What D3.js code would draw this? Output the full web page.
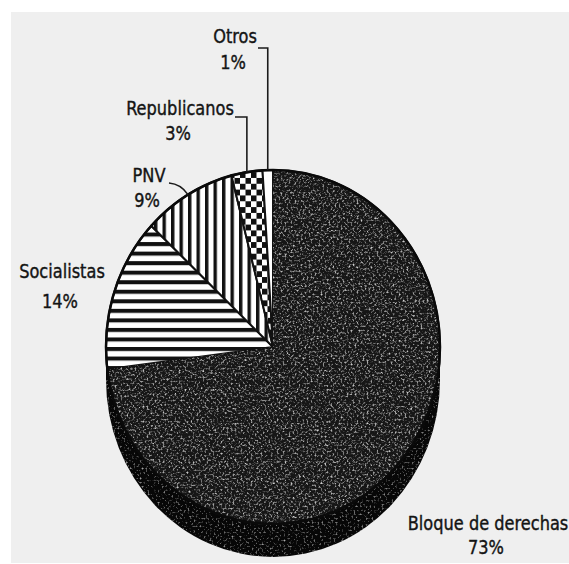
<!DOCTYPE html>
<html>
<head>
<meta charset="utf-8">
<script src="https://cdn.jsdelivr.net/npm/d3@7"></script>
<style>
  html, body { margin: 0; padding: 0; background: #fff; }
  svg { display: block; }
  text { font-family: "DejaVu Sans Condensed", "DejaVu Sans", sans-serif; font-stretch: condensed; fill: #141414; stroke: #141414; stroke-width: 0.35; }
</style>
</head>
<body>
<script>
// values (percent of seats)
var categories = ["Bloque de derechas", "Socialistas", "PNV", "Republicanos", "Otros"];
var values = [73, 14, 9, 3, 1];
var pctLabels = ["73%", "14%", "9%", "3%", "1%"];
var fills = ["dark", "hstripes", "vstripes", "checker", "white"];

var width = 569, height = 564,
    cx = 273, cy = 347,
    rx = 167, ry = 177,
    depth = 33,
    k = ry / rx;

var svg = d3.select("body").append("svg")
    .attr("width", width)
    .attr("height", height);

var defs = svg.append("defs");

// horizontal stripes
var hp = defs.append("pattern").attr("id", "hstripes")
    .attr("patternUnits", "userSpaceOnUse").attr("width", 10).attr("height", 9);
hp.append("rect").attr("width", 10).attr("height", 9).attr("fill", "#fff");
hp.append("rect").attr("width", 10).attr("height", 3.8).attr("fill", "#111");

// vertical stripes
var vp = defs.append("pattern").attr("id", "vstripes")
    .attr("patternUnits", "userSpaceOnUse").attr("width", 8.5).attr("height", 10);
vp.append("rect").attr("width", 8.5).attr("height", 10).attr("fill", "#fff");
vp.append("rect").attr("width", 3.4).attr("height", 10).attr("fill", "#111");

// checker
var cp = defs.append("pattern").attr("id", "checker")
    .attr("patternUnits", "userSpaceOnUse").attr("width", 11).attr("height", 11);
cp.append("rect").attr("width", 11).attr("height", 11).attr("fill", "#fff");
cp.append("rect").attr("x", 0).attr("y", 0).attr("width", 5.5).attr("height", 5.5).attr("fill", "#111");
cp.append("rect").attr("x", 5.5).attr("y", 5.5).attr("width", 5.5).attr("height", 5.5).attr("fill", "#111");

// speckle texture of the dark print
function speckle(id, grey, slope, intercept) {
  var f = defs.append("filter").attr("id", id)
      .attr("x", 0).attr("y", 0).attr("width", 1).attr("height", 1);
  f.append("feTurbulence").attr("type", "fractalNoise")
      .attr("baseFrequency", 0.5).attr("numOctaves", 2).attr("seed", 7).attr("result", "n");
  f.append("feColorMatrix").attr("in", "n").attr("type", "matrix")
      .attr("values", "0 0 0 0 " + grey + "  0 0 0 0 " + grey + "  0 0 0 0 " + grey + "  1 0 0 0 0")
      .attr("result", "a");
  var ct = f.append("feComponentTransfer").attr("in", "a").attr("result", "t");
  ct.append("feFuncA").attr("type", "linear").attr("slope", slope).attr("intercept", intercept);
  f.append("feComposite").attr("in", "t").attr("in2", "SourceGraphic").attr("operator", "in");
}
speckle("speck", 0.62, 3, -1.5);
speckle("speckWall", 0.5, 3, -1.65);

// paper of the scan
svg.append("rect").attr("x", 11).attr("y", 12)
    .attr("width", width - 11).attr("height", height - 13)
    .attr("fill", "#efefef");

var pie = d3.pie().sort(null).startAngle(0).endAngle(2 * Math.PI);
var arcs = pie(values);
var arc = d3.arc().innerRadius(0).outerRadius(rx);

// side wall of the 3D pie
var wallPath = "M" + (cx - rx) + "," + cy +
    "A" + rx + "," + ry + " 0 0 0 " + (cx + rx) + "," + cy +
    "L" + (cx + rx) + "," + (cy + depth) +
    "A" + rx + "," + ry + " 0 0 1 " + (cx - rx) + "," + (cy + depth) + "Z";
svg.append("path").attr("d", wallPath).attr("fill", "#070707");
svg.append("path").attr("d", wallPath).attr("fill", "#000").attr("filter", "url(#speckWall)");

// top face
var face = svg.append("g").attr("transform", "translate(" + cx + "," + cy + ") scale(1," + k + ")");

face.selectAll("path.slice")
  .data(arcs)
  .enter().append("path")
    .attr("class", "slice")
    .attr("d", arc)
    .attr("fill", function(d, i) {
      if (fills[i] === "dark") return "#161616";
      if (fills[i] === "white") return "#fff";
      return "url(#" + fills[i] + ")";
    })
    .attr("stroke", "#111")
    .attr("stroke-width", 2);

face.append("path")
    .attr("d", arc(arcs[0]))
    .attr("fill", "#000")
    .attr("filter", "url(#speck)");

face.append("ellipse")
    .attr("rx", rx).attr("ry", rx)
    .attr("fill", "none")
    .attr("stroke", "#0a0a0a")
    .attr("stroke-width", 2.5);

// rim point of a slice's mid angle
function rim(d) {
  var a = (d.startAngle + d.endAngle) / 2;
  return [cx + rx * Math.sin(a), cy - ry * Math.cos(a)];
}

// leader lines
var lead = svg.append("g").attr("fill", "none").attr("stroke", "#1b1b1b").attr("stroke-width", 1.6);
var pOtros = rim(arcs[4]);
lead.append("path").attr("d", "M258,48H" + pOtros[0] + "V" + pOtros[1]);
var pRep = rim(arcs[3]);
lead.append("path").attr("d", "M235,117H" + pRep[0] + "V" + pRep[1]);
var pPnv = rim(arcs[2]);
lead.append("path").attr("d", "M169,183Q181,184 " + pPnv[0] + "," + pPnv[1]);

// labels (the scan is slightly stretched vertically)
var labelPos = [
  [488, 530, 554],
  [62, 278, 308],
  [149, 182, 207],
  [180, 115, 140],
  [235, 43, 69]
];

var lab = svg.append("g").attr("font-size", 18).attr("text-anchor", "middle");
categories.forEach(function(c, i) {
  lab.append("text")
      .attr("transform", "translate(" + labelPos[i][0] + "," + labelPos[i][1] + ") scale(1,1.12)")
      .text(c);
  lab.append("text")
      .attr("transform", "translate(" + (labelPos[i][0] - 2) + "," + labelPos[i][2] + ") scale(1,1.12)")
      .text(pctLabels[i]);
});
</script>
</body>
</html>
